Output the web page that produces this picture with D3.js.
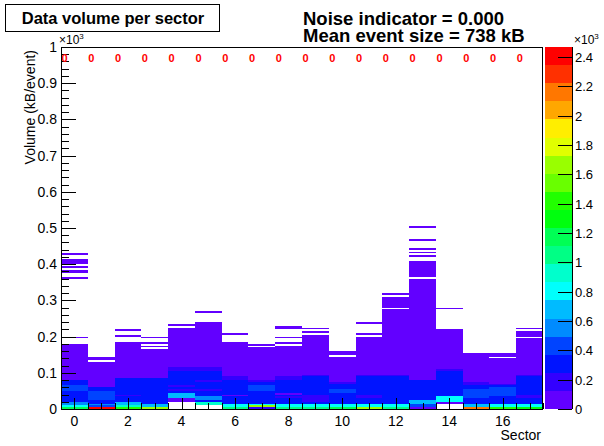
<!DOCTYPE html>
<html><head><meta charset="utf-8">
<script src="https://cdn.jsdelivr.net/npm/d3@7"></script>
<style>
body{margin:0;background:#fff}
svg{display:block}
text{font-family:"Liberation Sans",Arial,Helvetica,sans-serif;fill:#000}
</style>
</head><body>
<svg id="c" width="604" height="446"></svg>
<script>
// ---------------- data ----------------
const sectors = d3.range(18);
const binKB = 5;                 // y bin width in kB
const nBins = 200;               // 0 .. 1000 kB
const zMax = 2468;               // histogram maximum (palette top)
const baseCount = 60;            // count of the broad violet body
// top of the continuous violet body per sector (kB)
const solidTop = [180,130,178,165,230,228,181,170,174,205,160,198,310,361,220,145,140,192];
// isolated / extra filled ranges above the body [lo,hi] kB
const upperRuns = [
  [[427,427],[413,413],[407,407],[400,400],[393,393],[382,382],[375,375],[361,361],[195,195]],
  [[143,143],[137,137]],
  [[219,219],[201,201],[184,184]],
  [[198,198],[181,181],[172,172]],
  [[232,232]],
  [[267,267],[236,236],[231,231]],
  [[205,205]],
  [[177,179]],
  [[229,229],[222,222],[197,197],[181,181]],
  [[223,223],[213,213]],
  [],
  [[238,238],[206,206]],
  [[317,317]],
  [[504,504],[467,467],[440,440],[432,432],[421,421],[382,410],[367,379]],
  [[277,277]],
  [[154,154],[149,149]],
  [[152,152],[146,146]],
  [[220,220],[213,213],[207,207],[200,200]]
];
// empty bins inside the body (kB)
const gapBins = [[],[132],[],[],[226],[],[],[],[],[],[147],[201],[278],[364],[],[],[],[]];
// lower regions with higher counts [lo,hi,count]
const levelRuns = [
  [[0,80,310],[52,62,430],[10,20,555],[5,10,800],[0,5,1170]],
  [[50,60,310],[25,50,430],[15,25,310],[10,15,555],[5,10,430],[0,5,2468]],
  [[0,85,310],[35,40,185],[10,20,680],[5,10,925],[0,5,1420]],
  [[0,85,310],[5,15,680],[0,5,1665]],
  [[103,112,185],[15,103,310],[60,65,185],[50,55,185],[28,43,680],[16,28,60],[0,16,0]],
  [[103,112,185],[20,103,310],[75,80,185],[50,55,185],[25,35,555],[10,20,925],[0,10,0]],
  [[80,88,185],[0,80,310],[35,40,60],[5,15,800],[0,5,1050]],
  [[75,80,185],[0,75,310],[50,63,430],[10,15,800],[5,10,1665],[0,5,185]],
  [[80,87,185],[0,80,310],[40,45,60],[30,35,185],[5,15,800],[0,5,1050]],
  [[88,94,185],[0,88,310],[20,40,185],[5,15,800],[0,5,1050]],
  [[67,73,185],[0,67,310],[45,54,430],[5,15,800],[0,5,1170]],
  [[88,94,185],[0,88,310],[30,40,185],[5,15,800],[0,5,1665]],
  [[86,92,185],[0,86,310],[5,15,800],[0,5,1050]],
  [[0,80,310],[15,25,680],[5,15,430],[0,5,60]],
  [[103,110,185],[34,103,310],[20,34,800],[14,20,60],[0,14,0]],
  [[64,71,185],[0,64,310],[34,52,430],[5,15,680],[0,5,2160]],
  [[62,68,185],[0,62,310],[38,57,430],[5,15,800],[0,5,1420]],
  [[88,94,185],[0,88,310],[30,40,185],[5,15,800],[0,5,1300]]
];
const noiseLabels = sectors.map(() => "0");
const yTicks = d3.range(0, 1001, 100);
const xTickValues = d3.range(0, 17, 2);
const zTicks = d3.range(0, 2401, 200);
const paletteColors = ["#6200ff","#3300ff","#0014ff","#0044ff","#008bff","#00bbff","#00fffc","#00ffcc",
  "#00ff85","#00ff55","#00ff0e","#22ff00","#69ff00","#99ff00","#e0ff00","#ffee00","#ffa700","#ff7700","#ff3000","#ff0000"];
const titleText = "Data volume per sector";
const infoLines = ["Noise indicator = 0.000", "Mean event size = 738 kB"];

// ------------- build cells -------------
function binRange(lo, hi){
  const a = Math.floor(lo / binKB);
  const b = Math.max(a, Math.ceil(hi / binKB) - 1);
  return d3.range(a, Math.min(b, nBins - 1) + 1);
}
const cells = [];
sectors.forEach(s => {
  const c = new Array(nBins).fill(0);
  binRange(0, solidTop[s]).forEach(i => c[i] = baseCount);
  upperRuns[s].forEach(([lo,hi]) => binRange(lo,hi).forEach(i => c[i] = baseCount));
  gapBins[s].forEach(v => binRange(v,v).forEach(i => c[i] = 0));
  levelRuns[s].forEach(([lo,hi,n]) => binRange(lo,hi).forEach(i => c[i] = n));
  let i = 0;
  while (i < nBins) {
    if (c[i] > 0) {
      let j = i;
      while (j + 1 < nBins && c[j + 1] === c[i]) j++;
      cells.push({s, i0: i, i1: j + 1, n: c[i]});
      i = j + 1;
    } else i++;
  }
});

// ------------- drawing -------------
const svg = d3.select("#c");
const L = 61, R = 543, T = 47, B = 409;
const x = d3.scaleLinear().domain([-0.5, 17.5]).range([L, R]);
const y = d3.scaleLinear().domain([0, 1000]).range([B, T]);
const z = d3.scaleQuantize().domain([0, zMax]).range(paletteColors);

svg.append("rect").attr("width",604).attr("height",446).attr("fill","#fff");

svg.append("g").attr("shape-rendering","crispEdges").selectAll("rect").data(cells).join("rect")
  .attr("x", d => x(d.s - 0.5))
  .attr("width", d => x(d.s + 0.5) - x(d.s - 0.5))
  .attr("y", d => y(d.i1 * binKB))
  .attr("height", d => y(d.i0 * binKB) - y(d.i1 * binKB))
  .attr("fill", d => z(Math.min(d.n, zMax - 1)));

// frame
svg.append("rect").attr("x",L+0.5).attr("y",T+0.5).attr("width",R-L-1).attr("height",B-T)
  .attr("fill","none").attr("stroke","#000").attr("stroke-width",1);

// y axis ticks (major every 100, minor every 20)
const gy = svg.append("g");
d3.range(0, 1001, 20).forEach(v => {
  const major = v % 100 === 0;
  gy.append("line").attr("x1",L).attr("x2",L + (major ? 15 : 8))
    .attr("y1",Math.round(y(v))+0.5).attr("y2",Math.round(y(v))+0.5)
    .attr("stroke","#000").attr("stroke-width",1);
});
gy.selectAll("text").data(yTicks).join("text")
  .attr("x", 57).attr("y", d => y(d) + 5)
  .attr("text-anchor","end").attr("font-size",14)
  .text(d => d === 1000 ? "1" : d3.format("~g")(d/1000));
const ty = svg.append("text").attr("x",59).attr("y",44).attr("font-size",12);
ty.append("tspan").text("\u00d710");
ty.append("tspan").attr("font-size",8).attr("dy",-5).text("3");

// x axis ticks: major every 2, minor every 0.5
const gx = svg.append("g");
d3.range(-0.5, 17.51, 0.5).forEach(v => {
  const major = Math.abs(v/2 - Math.round(v/2)) < 1e-6;
  gx.append("line").attr("x1",Math.round(x(v))+0.5).attr("x2",Math.round(x(v))+0.5)
    .attr("y1",B).attr("y2",B - (major ? 11 : 6))
    .attr("stroke","#000").attr("stroke-width",1);
});
gx.selectAll("text").data(xTickValues).join("text")
  .attr("x", d => x(d)).attr("y", 426)
  .attr("text-anchor","middle").attr("font-size",14)
  .text(d => d);
svg.append("text").attr("x",541).attr("y",440).attr("text-anchor","end").attr("font-size",14).text("Sector");
svg.append("text").attr("transform","translate(35,50) rotate(-90)")
  .attr("text-anchor","end").attr("font-size",14).text("Volume (kB/event)");

// red per-sector noise labels
svg.append("g").selectAll("text").data(sectors).join("text")
  .attr("x", d => x(d - 0.5) + 0.5).attr("y", 62)
  .attr("fill","#ff0000").style("fill","#ff0000").attr("font-size",11).attr("font-weight","bold")
  .text(d => noiseLabels[d]);

// palette
const PL = 545, PR = 572;
const zy = d3.scaleLinear().domain([0, zMax]).range([B, T]);
svg.append("g").attr("shape-rendering","crispEdges").selectAll("rect").data(paletteColors).join("rect")
  .attr("x", PL).attr("width", PR - PL)
  .attr("y", (d,i) => zy((i+1) * zMax / 20))
  .attr("height", (d,i) => zy(i * zMax / 20) - zy((i+1) * zMax / 20))
  .attr("fill", d => d);
svg.append("line").attr("x1",PR+0.5).attr("x2",PR+0.5).attr("y1",T).attr("y2",B).attr("stroke","#000");
const gz = svg.append("g");
zTicks.forEach(v => {
  gz.append("line").attr("x1",PR - 14).attr("x2",PR)
    .attr("y1",Math.round(zy(v))+0.5).attr("y2",Math.round(zy(v))+0.5).attr("stroke","#000");
});
gz.selectAll("text").data(zTicks).join("text")
  .attr("x", 575).attr("y", d => zy(d) + 5).attr("font-size",13)
  .text(d => d3.format("~g")(d/1000));
const tz = svg.append("text").attr("x",574).attr("y",44).attr("font-size",12);
tz.append("tspan").text("\u00d710");
tz.append("tspan").attr("font-size",8).attr("dy",-5).text("3");

// title box
svg.append("rect").attr("x",5.5).attr("y",4.5).attr("width",214).attr("height",27)
  .attr("fill","#fff").attr("stroke","#000");
svg.append("text").attr("x",113).attr("y",24).attr("text-anchor","middle")
  .attr("font-size",16.5).attr("font-weight","bold").text(titleText);
svg.selectAll("text.info").data(infoLines).join("text").attr("class","info")
  .attr("x",303).attr("y",(d,i) => 25 + i*17).attr("font-size",18.5).attr("font-weight","bold").text(d => d);
</script>
</body></html>
